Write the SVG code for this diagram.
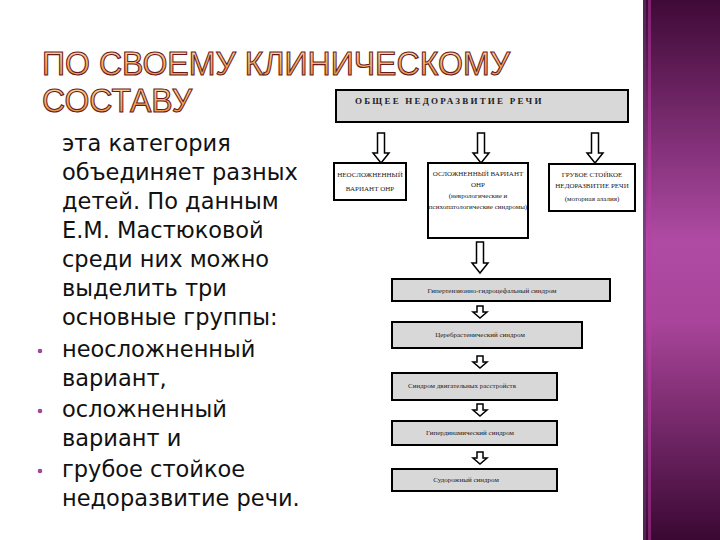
<svg xmlns="http://www.w3.org/2000/svg" width="720" height="540" viewBox="0 0 720 540">
<defs>
<linearGradient id="bar" x1="0" y1="0" x2="0" y2="1">
<stop offset="0" stop-color="#3f0a37"/>
<stop offset="0.45" stop-color="#b04ba4"/>
<stop offset="0.6" stop-color="#a84499"/>
<stop offset="1" stop-color="#3a0833"/>
</linearGradient>
<linearGradient id="ttl" x1="0" y1="0" x2="0" y2="1">
<stop offset="0" stop-color="#ffe6c0"/>
<stop offset="0.5" stop-color="#f6b46a"/>
<stop offset="1" stop-color="#e88a3a"/>
</linearGradient>
<style>
.ttl{font-family:"Liberation Sans","DejaVu Sans",sans-serif;font-size:34px;fill:url(#ttl);stroke:#6a1a1a;stroke-width:1.1}
.body{font-family:"DejaVu Sans","Open Sans",sans-serif;font-size:22.5px;fill:#111}
.box{fill:#ffffff;stroke:#000;stroke-width:2}
.gbox{fill:#d8d8d8;stroke:#000;stroke-width:2}
.lbl{font-family:"Liberation Serif",serif;font-size:7px;fill:#222;text-anchor:middle}
.arr{fill:#fff;stroke:#000;stroke-width:1.5;stroke-linejoin:miter}
</style>
</defs>
<rect width="720" height="540" fill="#fff"/>
<rect x="643" y="0" width="77" height="540" fill="url(#bar)"/>
<rect x="643" y="0" width="3" height="540" fill="#5a3a6a" opacity="0.6"/>
<rect x="648" y="0" width="3" height="540" fill="#c03aa8" opacity="0.5"/>

<g id="title">
<text class="ttl" x="42" y="75" textLength="468" lengthAdjust="spacingAndGlyphs">ПО СВОЕМУ КЛИНИЧЕСКОМУ</text>
<text class="ttl" x="42" y="112" textLength="150" lengthAdjust="spacingAndGlyphs">СОСТАВУ</text>
</g>

<g id="body">
<text class="body" x="62" y="151">эта категория</text>
<text class="body" x="62" y="180">объединяет разных</text>
<text class="body" x="62" y="209">детей. По данным</text>
<text class="body" x="62" y="238">Е.М. Мастюковой</text>
<text class="body" x="62" y="267">среди них можно</text>
<text class="body" x="62" y="296">выделить три</text>
<text class="body" x="62" y="325">основные группы:</text>
<text class="body" x="62" y="357">неосложненный</text>
<text class="body" x="62" y="386">вариант,</text>
<text class="body" x="62" y="417">осложненный</text>
<text class="body" x="62" y="446">вариант и</text>
<text class="body" x="62" y="477">грубое стойкое</text>
<text class="body" x="62" y="506">недоразвитие речи.</text>
<circle cx="40" cy="351" r="2.3" fill="#9a4a98"/>
<circle cx="40" cy="411" r="2.3" fill="#9a4a98"/>
<circle cx="40" cy="471" r="2.3" fill="#9a4a98"/>
</g>

<g id="connectors">
<polygon class="arr" points="377.5,133 384.5,133 384.5,153 389,153 381,163 373,153 377.5,153"/>
<polygon class="arr" points="477.5,133 484.5,133 484.5,153 489,153 481,163 473,153 477.5,153"/>
<polygon class="arr" points="591.5,133 598.5,133 598.5,153 603,153 595,163 587,153 591.5,153"/>
<polygon class="arr" points="476.5,242 483.5,242 483.5,263 488,263 480,273 472,263 476.5,263"/>
<polygon class="arr" points="477,306 483,306 483,312 487,312 480,318 473,312 477,312"/>
<polygon class="arr" points="477,356 483,356 483,362 487,362 480,368 473,362 477,362"/>
<polygon class="arr" points="477,404 483,404 483,410 487,410 480,416 473,410 477,410"/>
<polygon class="arr" points="477,452 483,452 483,458 487,458 480,464 473,458 477,458"/>
</g>

<g id="n-onr">
<rect class="gbox" x="336" y="90" width="292" height="32"/>
<text x="355" y="104" font-family="Liberation Serif,serif" font-size="9" font-weight="bold" letter-spacing="2.2" fill="#222">ОБЩЕЕ  НЕДОРАЗВИТИЕ  РЕЧИ</text>
</g>

<g id="n-simple">
<rect class="box" x="334" y="163" width="72" height="37"/>
<text class="lbl" x="370" y="177">НЕОСЛОЖНЕННЫЙ</text>
<text class="lbl" x="370" y="191">ВАРИАНТ ОНР</text>
</g>

<g id="n-complex">
<rect class="box" x="428" y="163" width="100" height="75"/>
<text class="lbl" x="478" y="176">ОСЛОЖНЕННЫЙ  ВАРИАНТ</text>
<text class="lbl" x="478" y="187">ОНР</text>
<text class="lbl" x="478" y="198">(неврологические и</text>
<text class="lbl" x="478" y="209">психопатологические синдромы)</text>
</g>

<g id="n-severe">
<rect class="box" x="549" y="164" width="86" height="47"/>
<text class="lbl" x="592" y="177">ГРУБОЕ СТОЙКОЕ</text>
<text class="lbl" x="592" y="188">НЕДОРАЗВИТИЕ РЕЧИ</text>
<text class="lbl" x="592" y="201">(моторная алалия)</text>
</g>

<g id="n-s1">
<rect class="gbox" x="392" y="279" width="218" height="22"/>
<text class="lbl" x="492" y="293">Гипертензионно-гидроцефальный синдром</text>
</g>
<g id="n-s2">
<rect class="gbox" x="392" y="322" width="190" height="26"/>
<text class="lbl" x="480" y="337">Церебрастенический синдром</text>
</g>
<g id="n-s3">
<rect class="gbox" x="392" y="373" width="165" height="27"/>
<text class="lbl" x="462" y="388">Синдром двигательных расстройств</text>
</g>
<g id="n-s4">
<rect class="gbox" x="392" y="421" width="165" height="24"/>
<text class="lbl" x="470" y="435">Гипердинамический синдром</text>
</g>
<g id="n-s5">
<rect class="gbox" x="392" y="469" width="165" height="22"/>
<text class="lbl" x="466" y="482">Судорожный синдром</text>
</g>
</svg>
